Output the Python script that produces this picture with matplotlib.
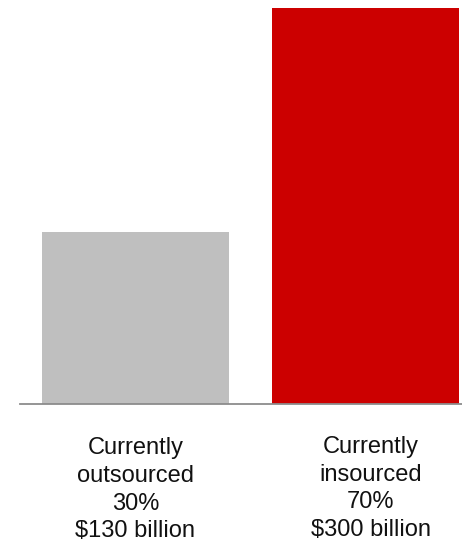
import matplotlib
matplotlib.use('Agg')
import matplotlib.pyplot as plt

labels = ['Currently\noutsourced\n30%\n$130 billion',
          'Currently\ninsourced\n70%\n$300 billion']
values = [130, 300]
colors = ['#BFBFBF', '#CC0000']

plt.rcParams['font.family'] = ['Liberation Sans', 'DejaVu Sans']

fig = plt.figure(figsize=(4.62, 5.44), dpi=100)
ax = fig.add_axes([0, 0.2574, 1, 0.7279])

x = range(len(values))
ax.bar(x, values, width=0.813, color=colors)

ax.set_xlim(-0.502 - 20 / 230, 1.42)
ax.set_ylim(0, 300)
# axes spans full width; baseline starts at 20px
ax.spines[['top', 'right', 'left']].set_visible(False)
ax.spines['bottom'].set_color('#8C8C8C')
ax.spines['bottom'].set_linewidth(1.3)
ax.spines['bottom'].set_bounds(-0.502, 1.42)
ax.set_xticks([])
ax.set_yticks([])

# labels under the bars, red one sits a touch right and higher
offsets = [(0, -24), (4, -23)]
for i, (lab, off) in enumerate(zip(labels, offsets)):
    ax.annotate(lab, xy=(i, 0), xycoords=('data', 'axes fraction'),
                xytext=off, textcoords='offset points',
                ha='center', va='top', multialignment='center',
                fontsize=17, color='#111111', linespacing=1.33,
                annotation_clip=False)

fig.savefig('out.png', dpi=100)
